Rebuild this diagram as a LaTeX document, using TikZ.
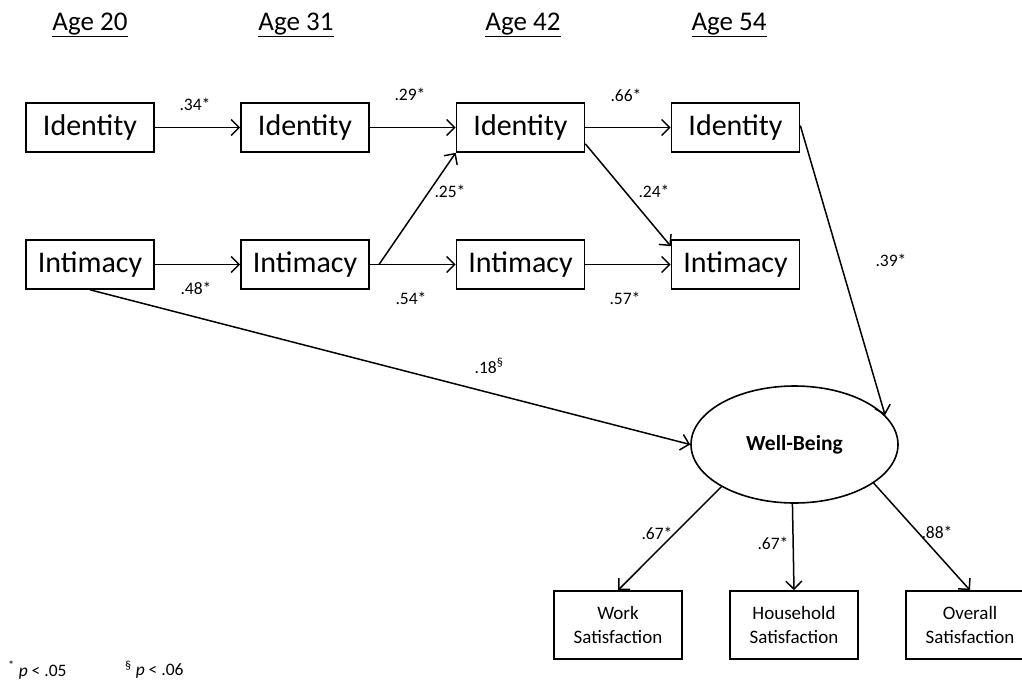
\documentclass[tikz,border=0pt]{standalone}
\usepackage{fontspec}
\setmainfont{Carlito}
\usetikzlibrary{arrows.meta,shapes.geometric}
\begin{document}
\begin{tikzpicture}[x=1pt,y=-1pt,
  box/.style={draw,line width=1.6pt,minimum width=128pt,minimum height=49pt,inner sep=0pt,font=\fontsize{30}{33}\selectfont},
  sbox/.style={draw,line width=1.6pt,minimum width=128pt,minimum height=68pt,inner sep=0pt,align=center,font=\fontsize{19}{24}\selectfont},
  conn/.style={line width=1.5pt,-{Straight Barb[length=8pt,width=16pt,line width=1.5pt]}},
  plain/.style={line width=1.5pt},
  lbl/.style={font=\fontsize{17.5}{20}\selectfont,inner sep=0pt},
  age/.style={font=\fontsize{27}{30}\selectfont,inner sep=0pt}]
\useasboundingbox (0,0) rectangle (1022,680);
\fill[white] (0,0) rectangle (1022,680);
\clip (0,0) rectangle (1022,680);

\node[age] (a20) at (90,25) {\underline{Age 20}};
\node[age] (a31) at (296,25) {\underline{Age 31}};
\node[age] (a42) at (523,25) {\underline{Age 42}};
\node[age] (a54) at (729,25) {\underline{Age 54}};

\node[box] (id1) at (90,127.5) {Identity};
\node[box] (id2) at (305,127.5) {Identity};
\node[box] (id3) at (520.5,127.5) {Identity};
\node[box] (id4) at (735.5,127.5) {Identity};
\node[box] (in1) at (90,264.5) {Intimacy};
\node[box] (in2) at (305,264.5) {Intimacy};
\node[box] (in3) at (520.5,264.5) {Intimacy};
\node[box] (in4) at (735.5,264.5) {Intimacy};

\node[ellipse,draw,line width=1.6pt,minimum width=207pt,minimum height=117pt,inner sep=0pt,font=\fontsize{21.5}{24}\selectfont\bfseries] (wb) at (794.5,444.5) {Well-Being};

\node[sbox] (work) at (618,625) {Work\\Satisfaction};
\node[sbox] (hh) at (794,625) {Household\\Satisfaction};
\node[sbox] (ov) at (970,625) {Overall\\Satisfaction};

\coordinate (fork) at (379,264.5);

\draw[conn] (id1.east) -- (id2.west);
\draw[conn] (id2.east) -- (id3.west);
\draw[conn] (id3.east) -- (id4.west);
\draw[conn] (in1.east) -- (in2.west);
\draw[plain] (in2.east) -- (fork);
\draw[conn] (fork) -- (in3.west);
\draw[conn] (fork) -- (id3.south west);
\draw[conn] (in3.east) -- (in4.west);
\draw[conn] ([yshift=9pt]id3.south east) -- ([yshift=-7pt]in4.north west);
\draw[conn] ([yshift=2pt]id4.east) -- (wb.18);
\draw[conn] (in1.south) -- (wb.west);
\draw[conn] (wb.210) -- (work.north);
\draw[conn] (wb.268) -- (hh.north);
\draw[conn] (wb.-26) -- (ov.north);

\node[lbl] (l1) at (195,104) {.34*};
\node[lbl] (l2) at (410,94) {.29*};
\node[lbl] (l3) at (626,95) {.66*};
\node[lbl] (l4) at (450,191) {.25*};
\node[lbl] (l5) at (654,191) {.24*};
\node[lbl] (l6) at (196,288) {.48*};
\node[lbl] (l7) at (411,298) {.54*};
\node[lbl] (l8) at (625,298) {.57*};
\node[lbl] (l9) at (891,260) {.39*};
\node[lbl] (l10) at (489,366) {.18\textsuperscript{§}};
\node[lbl] (l11) at (657,533) {.67*};
\node[lbl] (l12) at (773,543) {.67*};
\node[lbl] (l13) at (937,532) {.88*};

\node[lbl,anchor=west] (f1) at (8,670) {\textsuperscript{*} \textit{p} < .05};
\node[lbl,anchor=west] (f2) at (125,670) {\textsuperscript{§} \textit{p} < .06};
\end{tikzpicture}
\end{document}
